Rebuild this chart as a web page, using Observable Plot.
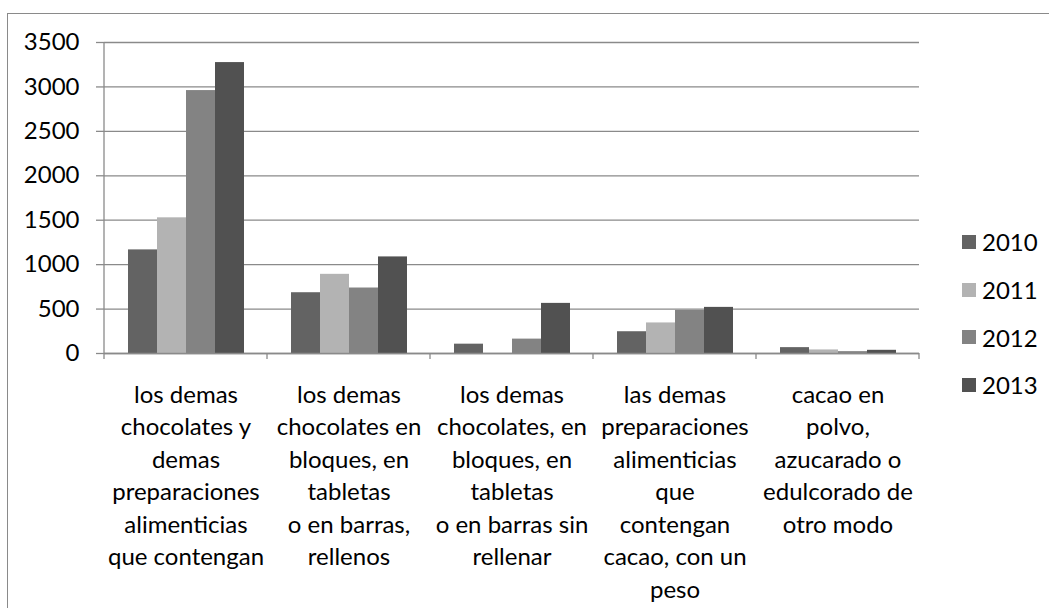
<!DOCTYPE html>
<html>
<head>
<meta charset="utf-8">
<script src="https://cdn.jsdelivr.net/npm/d3@7"></script>
<script src="https://cdn.jsdelivr.net/npm/@observablehq/plot@0.6"></script>
<style>
  html, body { margin: 0; padding: 0; background: #fff; }
  #wrap { position: relative; width: 1049px; height: 608px; overflow: hidden; font-family: Lato, "Noto Sans", sans-serif; color: #000; }
  #border { position: absolute; left: 7px; top: 13px; width: 1200px; height: 800px; border-left: 1.3px solid #8a8a8a; border-top: 1.3px solid #8a8a8a; }
  #chart { position: absolute; left: 0; top: 0; }
  #legend { position: absolute; left: 962px; top: 218px; }
  .item { display: flex; align-items: center; height: 47.7px; font-size: 24px; }
  .sw { width: 14px; height: 14px; margin-right: 6px; }
</style>
</head>
<body>
<div id="wrap">
  <div id="border"></div>
  <div id="chart"></div>
  <div id="legend"></div>
</div>
<script>
// ---- data ----
const categories = [
  "los demas chocolates y demas preparaciones alimenticias que contengan",
  "los demas chocolates en bloques, en tabletas o en barras, rellenos",
  "los demas chocolates, en bloques, en tabletas o en barras sin rellenar",
  "las demas preparaciones alimenticias que contengan cacao, con un peso",
  "cacao en polvo, azucarado o edulcorado de otro modo"
];
const tickLabels = [
  "los demas\nchocolates y\ndemas\npreparaciones\nalimenticias\nque contengan",
  "los demas\nchocolates en\nbloques, en\ntabletas\no en barras,\nrellenos",
  "los demas\nchocolates, en\nbloques, en\ntabletas\no en barras sin\nrellenar",
  "las demas\npreparaciones\nalimenticias\nque\ncontengan\ncacao, con un\npeso",
  "cacao en\npolvo,\nazucarado o\nedulcorado de\notro modo"
];
const years = ["2010", "2011", "2012", "2013"];
const v2010 = [1166, 684, 105, 245, 66];
const v2011 = [1527, 891, 0, 344, 40];
const v2012 = [2959, 737, 162, 485, 21];
const v2013 = [3274, 1087, 564, 519, 36];
const yTicks = [0, 500, 1000, 1500, 2000, 2500, 3000, 3500];
const colors = ["#636363", "#b3b3b3", "#838383", "#515151"];

const series = [v2010, v2011, v2012, v2013];
const data = categories.flatMap((c, i) =>
  years.map((yr, j) => ({category: c, year: yr, value: series[j][i]})));

const lineColor = "#8a8a8a";

const boundaryTicks = Plot.ruleX(categories, {
  fx: d => d,
  x: null,
  render(index, scales, values, dims) {
    const g = d3.create("svg:g");
    const i = index[0];
    const left = dims.marginLeft;
    const right = dims.width - dims.marginRight;
    const y0 = dims.height - dims.marginBottom;
    const top = dims.marginTop;
    const add = (x, ya, yb) => g.append("line")
      .attr("x1", x).attr("x2", x).attr("y1", ya).attr("y2", yb)
      .attr("stroke", lineColor).attr("stroke-width", 1.3);
    if (i === 0) add(left, top, y0 + 6);
    else add(left, y0, y0 + 6);
    if (i === categories.length - 1) add(right, y0, y0 + 6);
    return g.node();
  }
});

const chart = Plot.plot({
  width: 940,
  height: 608,
  marginTop: 42,
  marginBottom: 255,
  marginLeft: 104,
  marginRight: 21,
  style: {fontFamily: "Lato, 'Noto Sans', sans-serif", fontSize: "24px", color: "#000", background: "transparent"},
  fx: {domain: categories, padding: 0, label: null, axis: null},
  x: {domain: years, paddingInner: 0, paddingOuter: 0.74, axis: null},
  y: {domain: [0, 3500], axis: null},
  color: {domain: years, range: colors},
  marks: [
    Plot.gridY(yTicks, {stroke: lineColor, strokeOpacity: 1, strokeWidth: 1.3}),
    Plot.barY(data, {fx: "category", x: "year", y: "value", fill: "year"}),
    Plot.ruleY([0], {stroke: lineColor, strokeWidth: 1.3}),
    Plot.axisY(yTicks, {anchor: "left", tickSize: 8, tickPadding: 17, stroke: lineColor, strokeWidth: 1.3,
      fill: "#000", fontSize: 24, label: null, tickFormat: d => String(d)}),
    Plot.axisFx({anchor: "bottom", tickSize: 0, tickPadding: 26, fill: "#000", fontSize: 24,
      lineHeight: 1.354, label: null, tickFormat: c => tickLabels[categories.indexOf(c)]}),
    boundaryTicks
  ]
});
document.getElementById("chart").appendChild(chart);

const legend = d3.select("#legend");
years.forEach((yr, j) => {
  const it = legend.append("div").attr("class", "item");
  it.append("div").attr("class", "sw").style("background", colors[j]);
  it.append("span").text(yr);
});
</script>
</body>
</html>
